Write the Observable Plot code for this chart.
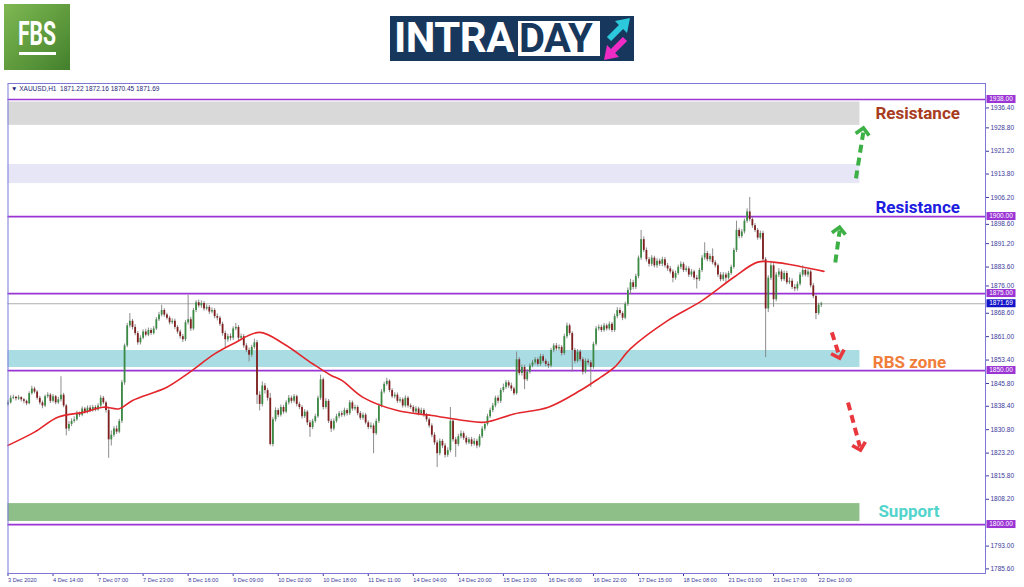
<!DOCTYPE html>
<html>
<head>
<meta charset="utf-8">
<script src="https://cdn.jsdelivr.net/npm/d3@7"></script>
<script src="https://cdn.jsdelivr.net/npm/@observablehq/plot@0.6"></script>
<style>
html,body{margin:0;padding:0;background:#fff;}
#header{position:relative;width:1024px;height:80px;overflow:hidden;}
#fbs{position:absolute;left:4px;top:4px;width:66px;height:66px;
  background:linear-gradient(135deg,#7fb854 0%,#64a040 45%,#44802d 100%);}
#fbs .t{position:absolute;left:0;top:11px;width:66px;text-align:center;color:#fff;
  font-family:Roboto,"DejaVu Sans",sans-serif;font-weight:bold;font-size:33px;line-height:38px;
  transform:scaleX(0.64);}
#fbs .u{position:absolute;left:15px;top:48px;width:37px;height:3px;background:#fff;}
#intraday{position:absolute;left:390px;top:16px;width:244px;height:45px;background:#17385c;}
#intraday .a{position:absolute;left:4px;top:-2px;font-family:Roboto,sans-serif;font-weight:bold;
  font-size:42px;line-height:48px;color:#fff;letter-spacing:-0.5px;}
#intraday .box{position:absolute;left:128px;top:5px;width:82px;height:35px;background:#fff;}
#intraday .b{position:absolute;left:129px;top:-1px;font-family:Roboto,sans-serif;font-weight:bold;
  font-size:40px;line-height:48px;color:#17385c;letter-spacing:-0.5px;}
#intraday svg{position:absolute;left:211px;top:1px;}
#chart svg{display:block;}
</style>
</head>
<body>
<div id="header">
  <div id="fbs"><div class="t">FBS</div><div class="u"></div></div>
  <div id="intraday">
    <span class="a">INTRA</span>
    <div class="box"></div>
    <span class="b">DAY</span>
    <svg width="32" height="44" viewBox="0 0 32 44">
      <polygon fill="#2cc9dd" points="5.9,19.9 17.9,7.9 14,4 29,1 26,16 22.1,12.1 10.1,24.1"/>
      <polygon fill="#ee2bc4" points="21.9,19.9 26.1,24.1 14.1,36.1 18,40 3,43 6,28 9.9,31.9"/>
    </svg>
  </div>
</div>
<div id="chart"></div>
<script>
// ---------- DATA ----------
const symbolName = "XAUUSD,H1";
const lastOHLC = [1871.22, 1872.16, 1870.45, 1871.69];
const firstOpen = 1839.0;

const close = [
1839.5,1841.0,1841.3,1840.8,1841.2,1840.5,1840.0,1839.2,1842.5,1844.0,
1843.0,1841.0,1839.5,1838.5,1841.5,1842.0,1840.0,1841.5,1839.5,1840.5,
1842.0,1838.5,1831.0,1832.5,1833.5,1834.0,1836.0,1835.5,1837.5,1836.5,
1837.8,1837.0,1838.0,1837.2,1838.5,1841.0,1839.5,1837.0,1827.5,1829.0,
1831.0,1830.0,1833.5,1846.0,1858.0,1864.5,1866.0,1864.0,1862.0,1859.0,
1860.5,1862.5,1861.5,1863.0,1862.0,1863.5,1866.5,1868.0,1869.5,1868.0,
1867.0,1865.5,1866.0,1864.0,1862.5,1861.0,1860.0,1865.5,1866.5,1863.5,
1869.5,1872.0,1871.0,1871.8,1870.0,1870.5,1869.0,1869.5,1867.5,1867.0,
1865.0,1862.0,1860.0,1861.0,1860.5,1863.5,1864.0,1860.5,1861.0,1858.0,
1856.5,1855.0,1857.5,1859.0,1842.0,1839.0,1845.0,1843.5,1841.0,1826.0,
1834.0,1837.0,1835.5,1838.0,1836.5,1839.5,1841.0,1840.0,1841.5,1839.0,
1838.0,1835.0,1836.5,1833.0,1831.5,1833.5,1835.0,1841.0,1847.0,1838.0,
1840.0,1833.5,1831.0,1833.5,1835.0,1836.0,1835.5,1837.0,1836.0,1839.5,
1837.5,1838.0,1836.0,1834.5,1835.5,1833.0,1831.5,1832.0,1829.5,1833.5,
1838.5,1843.0,1845.5,1846.5,1843.5,1841.5,1842.0,1840.0,1840.5,1838.5,
1841.0,1838.5,1838.0,1836.5,1837.5,1836.0,1837.0,1835.5,1834.0,1832.0,
1829.0,1826.5,1823.0,1827.0,1825.5,1822.5,1824.0,1833.5,1827.5,1826.0,
1828.5,1829.5,1828.0,1826.5,1827.5,1826.0,1827.0,1825.5,1828.5,1831.0,
1832.5,1835.0,1837.0,1838.5,1841.0,1840.0,1843.5,1844.5,1846.0,1845.0,
1844.0,1842.5,1853.5,1849.0,1851.0,1847.0,1849.5,1851.5,1852.5,1853.5,
1852.0,1854.5,1853.0,1852.0,1851.5,1856.5,1858.0,1857.0,1857.5,1855.5,
1861.0,1864.5,1862.0,1856.5,1853.0,1856.0,1853.5,1849.5,1853.0,1852.5,
1851.0,1858.5,1863.5,1864.0,1863.0,1864.5,1863.5,1865.0,1863.0,1867.5,
1869.5,1868.5,1867.0,1871.5,1876.0,1878.5,1877.0,1880.5,1886.5,1892.5,
1889.0,1886.0,1884.5,1886.5,1884.0,1885.5,1884.5,1886.0,1884.0,1883.0,
1882.0,1880.0,1881.5,1883.5,1884.5,1882.5,1883.0,1881.0,1882.0,1880.0,
1879.5,1882.5,1886.5,1888.0,1886.0,1887.0,1885.0,1884.0,1881.0,1879.5,
1881.0,1880.0,1881.5,1883.5,1889.0,1895.5,1893.5,1895.0,1898.5,1901.5,
1899.0,1897.0,1895.5,1893.0,1894.5,1886.0,1870.0,1880.0,1884.0,1873.0,
1881.0,1882.0,1879.5,1881.5,1878.5,1879.0,1877.0,1876.5,1878.0,1881.0,
1882.5,1881.0,1882.0,1877.5,1874.0,1868.5,1871.22,1871.69];

const high = [
1840.2,1841.8,1842.0,1841.6,1841.9,1841.5,1840.9,1840.4,1843.1,1844.9,
1844.6,1843.5,1841.6,1840.1,1842.0,1842.8,1842.5,1842.2,1841.9,1841.3,
1848.0,1842.6,1839.0,1833.4,1834.3,1835.0,1836.8,1836.5,1838.2,1838.0,
1838.5,1838.6,1838.7,1838.6,1839.2,1841.8,1841.6,1840.0,1837.6,1830.4,
1831.8,1832.0,1834.2,1846.8,1858.6,1865.3,1868.5,1866.6,1864.9,1862.7,
1861.3,1863.2,1863.4,1863.8,1863.7,1864.3,1867.2,1868.9,1871.2,1870.1,
1868.6,1867.6,1866.8,1866.7,1864.6,1863.2,1861.7,1866.2,1874.5,1867.3,
1870.2,1872.7,1872.9,1872.6,1872.4,1871.3,1871.1,1870.3,1870.1,1868.4,
1867.6,1865.7,1862.8,1861.8,1861.9,1864.2,1865.3,1864.6,1861.8,1861.7,
1858.7,1857.3,1858.2,1860.2,1859.8,1843.1,1846.3,1845.8,1844.2,1842.6,
1834.8,1837.9,1837.6,1838.8,1838.7,1840.2,1841.9,1841.7,1842.2,1842.0,
1839.7,1838.6,1837.3,1837.0,1833.8,1834.2,1835.8,1841.7,1848.5,1847.6,
1840.9,1840.6,1834.2,1834.3,1835.8,1836.7,1836.8,1837.8,1837.6,1840.3,
1840.1,1838.8,1838.6,1836.7,1836.2,1836.1,1833.6,1833.0,1832.7,1834.3,
1839.2,1843.8,1846.2,1847.5,1847.0,1844.1,1842.8,1842.7,1841.3,1841.1,
1841.8,1841.6,1839.2,1838.6,1838.3,1838.1,1837.8,1837.6,1836.1,1834.6,
1832.7,1829.8,1827.2,1827.8,1827.6,1826.3,1824.9,1838.0,1834.1,1828.3,
1829.3,1830.4,1830.1,1828.7,1828.2,1828.3,1827.9,1827.7,1829.2,1831.8,
1833.3,1835.8,1837.8,1839.3,1841.7,1841.8,1844.2,1845.6,1846.8,1846.7,
1845.9,1844.6,1856.0,1854.2,1851.8,1851.7,1850.3,1852.2,1853.3,1854.2,
1854.1,1855.3,1855.2,1853.7,1852.8,1857.2,1858.7,1858.8,1858.3,1858.1,
1861.8,1865.4,1865.1,1862.6,1857.2,1856.8,1856.7,1854.2,1853.8,1853.7,
1853.2,1859.2,1864.3,1864.8,1864.7,1865.3,1865.1,1865.8,1865.6,1868.3,
1870.4,1870.3,1869.1,1872.2,1876.8,1879.6,1879.3,1881.3,1887.2,1895.5,
1893.4,1889.8,1886.7,1887.3,1887.1,1886.3,1886.2,1886.8,1886.7,1884.8,
1883.8,1882.7,1882.3,1884.2,1885.3,1885.1,1883.9,1883.7,1882.8,1882.6,
1880.9,1883.2,1887.3,1891.5,1888.7,1887.8,1889.5,1885.7,1884.6,1881.8,
1881.8,1881.7,1882.2,1884.2,1889.7,1898.5,1896.2,1895.8,1899.2,1902.5,
1906.2,1899.8,1897.7,1896.1,1895.3,1895.2,1886.7,1880.8,1885.5,1884.7,
1881.8,1883.1,1882.7,1882.3,1882.2,1880.1,1879.8,1877.9,1878.8,1881.8,
1884.0,1883.1,1882.8,1882.6,1878.3,1874.6,1871.9,1872.16];

const low = [
1838.4,1839.1,1840.5,1840.1,1840.3,1839.8,1839.2,1838.6,1838.9,1842.0,
1842.4,1840.4,1838.8,1837.6,1838.0,1840.9,1839.3,1839.5,1838.9,1839.0,
1839.8,1837.9,1828.8,1830.2,1831.8,1832.9,1833.5,1834.8,1835.0,1835.9,
1835.9,1836.3,1836.5,1836.6,1836.8,1838.0,1838.9,1836.2,1821.5,1825.5,
1828.3,1829.2,1829.5,1832.8,1845.2,1857.4,1863.8,1863.2,1861.3,1858.2,
1858.3,1860.0,1860.9,1861.0,1861.4,1861.5,1863.0,1865.9,1867.4,1867.3,
1866.4,1864.8,1864.9,1863.3,1861.8,1860.2,1859.1,1859.4,1864.8,1862.7,
1862.9,1868.8,1870.3,1870.2,1869.3,1869.4,1868.2,1868.4,1866.8,1866.1,
1864.3,1861.2,1857.5,1859.2,1859.6,1859.8,1862.9,1859.7,1859.8,1857.2,
1855.8,1852.8,1854.3,1856.9,1839.0,1836.9,1838.2,1842.4,1840.1,1825.5,
1825.2,1833.3,1834.7,1834.9,1835.8,1836.0,1838.8,1839.2,1839.4,1838.2,
1837.3,1834.2,1834.4,1832.1,1828.3,1830.8,1832.9,1834.5,1840.3,1837.2,
1837.4,1832.8,1829.9,1830.4,1832.9,1834.3,1834.8,1834.9,1835.2,1835.4,
1836.8,1836.9,1835.3,1833.8,1833.9,1832.4,1830.8,1830.9,1823.0,1828.9,
1832.8,1837.9,1842.4,1844.9,1842.8,1840.9,1840.8,1839.3,1839.4,1837.8,
1837.9,1837.8,1837.4,1835.8,1835.9,1835.3,1835.4,1834.8,1833.2,1831.3,
1828.2,1825.7,1818.5,1822.3,1824.7,1821.6,1821.8,1823.3,1826.8,1821.8,
1825.3,1827.8,1827.3,1825.8,1825.9,1825.2,1825.4,1824.6,1824.9,1827.9,
1830.3,1831.9,1834.4,1836.3,1837.9,1839.2,1839.3,1842.8,1843.9,1844.2,
1843.2,1841.8,1842.0,1848.3,1848.2,1843.8,1846.4,1848.8,1850.9,1851.8,
1851.3,1851.4,1852.3,1851.2,1850.6,1850.9,1855.8,1856.3,1856.4,1854.7,
1854.9,1860.3,1861.3,1849.5,1852.2,1852.4,1852.8,1848.5,1848.9,1851.7,
1844.5,1850.4,1857.9,1862.8,1862.3,1862.4,1862.8,1862.9,1862.3,1862.4,
1866.8,1867.8,1866.2,1866.5,1870.8,1874.6,1876.2,1876.3,1879.8,1885.8,
1888.3,1885.2,1883.6,1883.8,1883.3,1883.2,1883.8,1883.7,1883.3,1882.2,
1881.3,1878.5,1879.3,1880.9,1882.8,1881.8,1881.9,1880.2,1880.3,1879.3,
1876.5,1878.9,1881.8,1885.8,1885.3,1885.2,1884.3,1883.3,1880.2,1878.8,
1878.9,1878.3,1879.4,1880.9,1882.9,1888.3,1892.8,1892.9,1894.3,1897.8,
1898.3,1896.2,1894.8,1892.3,1892.4,1885.2,1854.2,1868.8,1879.2,1870.5,
1872.3,1880.2,1878.8,1878.9,1877.8,1877.9,1876.3,1875.6,1875.8,1877.4,
1880.3,1880.4,1880.2,1876.8,1873.3,1866.5,1867.9,1870.45];

// moving average (bar index, value)
const maBar   = [0, 10, 19, 29, 36, 42, 47, 60, 68, 78, 85, 95, 104, 115, 122, 126, 134, 147, 160, 172, 180, 191, 204, 216, 223, 229, 235, 249, 262, 274, 283, 289, 299, 308];
const maValue = [1825.7, 1830.0, 1834.9, 1836.5, 1838.1, 1837.6, 1840.3, 1844.6, 1849.1, 1855.4, 1858.7, 1862.4, 1858.7, 1852.2, 1848.4, 1846.8, 1841.3, 1837.0, 1835.4, 1833.8, 1833.2, 1835.9, 1838.1, 1843.5, 1847.4, 1851.1, 1857.1, 1866.2, 1872.7, 1880.3, 1885.2, 1885.2, 1883.8, 1882.2];

// horizontal levels
const levels = [1938, 1900, 1875, 1850, 1800];
const lastPrice = 1871.69;

// zones
const zoneLow  = [1929.6, 1910.7, 1851.0, 1801.0];
const zoneHigh = [1937.2, 1916.9, 1856.5, 1806.8];
const zoneEndBar = 321.6;

// annotation labels
const labelText  = ["Resistance", "Resistance", "RBS zone", "Support"];
const labelPrice = [1933.3, 1902.8, 1852.6, 1804.1];
const labelBar   = [343.4, 343.4, 340.3, 340.1];

// dashed arrows (bar index / price)
const arrowFromBar   = [320.1, 312.3, 311.0, 317.1];
const arrowFromPrice = [1912.4, 1885.1, 1862.4, 1839.6];
const arrowToBar     = [323.1, 314.1, 314.1, 322.0];
const arrowToPrice   = [1928.6, 1896.4, 1853.9, 1824.0];

// axes
const yTicks = [1928.8, 1921.2, 1913.8, 1906.2, 1891.2, 1883.6, 1868.6, 1861.0, 1853.4, 1845.8, 1838.4, 1830.8, 1823.2, 1815.8, 1808.2, 1793.0, 1785.6];
const yTicksBelowTag = [1936.4, 1898.6];
const yTicksAboveTag = [1876.0];
const xTickBars = [0, 17, 34, 51, 68, 85, 102, 119, 136, 153, 170, 187, 204, 221, 238, 255, 272, 289, 306];
const xTickLabels = ["3 Dec 2020","4 Dec 14:00","7 Dec 07:00","7 Dec 23:00","8 Dec 16:00","9 Dec 09:00","10 Dec 02:00","10 Dec 18:00","11 Dec 11:00","14 Dec 04:00","14 Dec 20:00","15 Dec 13:00","16 Dec 06:00","16 Dec 22:00","17 Dec 15:00","18 Dec 08:00","21 Dec 01:00","21 Dec 17:00","22 Dec 10:00"];
const tagValues = [1938, 1900, 1875, 1850, 1800, 1871.69];

// ---------- STYLES ----------
const bullColor = "#3a8a44", bearColor = "#7e1e1e", wickColor = "#808080";
const zoneFill = ["#d9d9d9", "#e6e6f7", "#a9dce3", "#8fbf88"];
const labelColor = ["#a83c1e", "#1c1ce0", "#f07d3a", "#52d4cc"];
const arrowColor = ["#3caf45", "#3caf45", "#e8383d", "#e8383d"];
const levelColor = "#9b34d4", frameColor = "#7d78d8", axisColor = "#3a3a9a";
const tagColor = ["#9b34d4", "#9b34d4", "#9b34d4", "#9b34d4", "#9b34d4", "#1414c8"];

// ---------- TABLES ----------
const bars = close.map((c, i) => {
  const o = i === 0 ? firstOpen : close[i - 1];
  return {i, o, c, h: high[i], l: low[i], col: c >= o ? bullColor : bearColor};
});
const ma = maBar.map((b, k) => ({b, v: maValue[k]}));
const zones = zoneLow.map((lo, k) => ({lo, hi: zoneHigh[k], fill: zoneFill[k]}));
const labels = labelText.map((t, k) => ({t, p: labelPrice[k], b: labelBar[k], col: labelColor[k]}));
const arrows = arrowFromBar.map((b, k) => {
  const x1 = b, y1 = arrowFromPrice[k], x2 = arrowToBar[k], y2 = arrowToPrice[k];
  return {x1, y1, x2, y2, hx: x2 - (x2 - x1) * 0.08, hy: y2 - (y2 - y1) * 0.08, col: arrowColor[k]};
});
const headerLine = "\u25BC " + symbolName + "  " + lastOHLC.map(v => v.toFixed(2)).join(" ");

const asFn = (s) => typeof s === "function" ? s : (v) => s.apply(v);

function priceTags(index, scales, values, dimensions) {
  const Y = asFn(scales.y);
  const x0 = dimensions.width - dimensions.marginRight;
  const g = d3.create("svg:g");
  tagValues.forEach((v, k) => {
    const yy = Y(v);
    g.append("rect").attr("x", x0 + 1.5).attr("y", yy - 4).attr("width", 29).attr("height", 8).attr("fill", tagColor[k]);
    g.append("text").attr("x", x0 + 16).attr("y", yy).attr("dy", "0.34em")
      .attr("text-anchor", "middle").attr("fill", "#fff").attr("font-size", 6.5)
      .attr("font-family", "Liberation Sans, Arial, sans-serif").text(v.toFixed(2));
  });
  return g.node();
}

function arrowHeads(index, scales) {
  const X = asFn(scales.x), Y = asFn(scales.y);
  const g = d3.create("svg:g");
  const L = 9.5, spread = 0.8;
  arrows.forEach(a => {
    const tx = X(a.x2), ty = Y(a.y2), sx = X(a.x1), sy = Y(a.y1);
    const ang = Math.atan2(sy - ty, sx - tx);
    const p1 = [tx + L * Math.cos(ang - spread), ty + L * Math.sin(ang - spread)];
    const p2 = [tx + L * Math.cos(ang + spread), ty + L * Math.sin(ang + spread)];
    g.append("path").attr("d", `M${p1[0]},${p1[1]}L${tx},${ty}L${p2[0]},${p2[1]}`)
      .attr("fill", "none").attr("stroke", a.col).attr("stroke-width", 3.6)
      .attr("stroke-linejoin", "miter").attr("stroke-linecap", "butt");
  });
  return g.node();
}

const chart = Plot.plot({
  width: 1024,
  height: 507,
  marginLeft: 7.5,
  marginRight: 39,
  marginTop: 3,
  marginBottom: 14,
  x: {domain: [0, 369], axis: null},
  y: {domain: [1784.1, 1943.2], axis: null},
  color: {type: "identity"},
  style: {background: "#fff", fontFamily: "Liberation Sans, Arial, sans-serif", overflow: "visible"},
  marks: [
    Plot.rect(zones, {x1: () => 0, x2: () => zoneEndBar, y1: "lo", y2: "hi", fill: "fill"}),
    Plot.ruleY(levels, {stroke: levelColor, strokeWidth: 1.7}),
    Plot.ruleY([lastPrice], {stroke: "#999", strokeWidth: 0.8}),
    Plot.ruleX(bars, {x: "i", y1: "l", y2: "h", stroke: wickColor, strokeWidth: 0.9}),
    Plot.ruleX(bars, {x: "i", y1: "o", y2: "c", stroke: "col", strokeWidth: 1.8}),
    Plot.line(ma, {x: "b", y: "v", stroke: "#e3262b", strokeWidth: 1.6, curve: "catmull-rom"}),
    Plot.link(arrows, {x1: "x1", y1: "y1", x2: "hx", y2: "hy", stroke: "col", strokeWidth: 4, strokeDasharray: "8,5"}),
    arrowHeads,
    Plot.text(labels, {x: "b", y: "p", text: "t", fill: "col", fontSize: 17, fontWeight: "bold", fontFamily: "Roboto, sans-serif"}),
    Plot.axisY({anchor: "right", ticks: yTicks, tickFormat: d => d.toFixed(2), tickSize: 3, tickPadding: 2, fontSize: 6.5, color: axisColor, label: null}),
    Plot.axisY({anchor: "right", ticks: yTicksBelowTag, tickFormat: d => d.toFixed(2), tickSize: 3, tickPadding: 2, dy: 3.5, fontSize: 6.5, color: axisColor, label: null}),
    Plot.axisY({anchor: "right", ticks: yTicksAboveTag, tickFormat: d => d.toFixed(2), tickSize: 3, tickPadding: 2, dy: -4.5, fontSize: 6.5, color: axisColor, label: null}),
    Plot.axisX({anchor: "bottom", ticks: xTickBars, tickFormat: d => xTickLabels[xTickBars.indexOf(d)], tickSize: 3, tickPadding: 2, textAnchor: "start", fontSize: 5.6, color: axisColor, label: null}),
    Plot.frame({stroke: frameColor, strokeWidth: 1}),
    priceTags,
    Plot.text([headerLine], {frameAnchor: "top-left", text: d => d, dx: 3, dy: 3, fontSize: 6.5, fill: "#1e1e78"})
  ]
});
document.getElementById("chart").appendChild(chart);
</script>
</body>
</html>
